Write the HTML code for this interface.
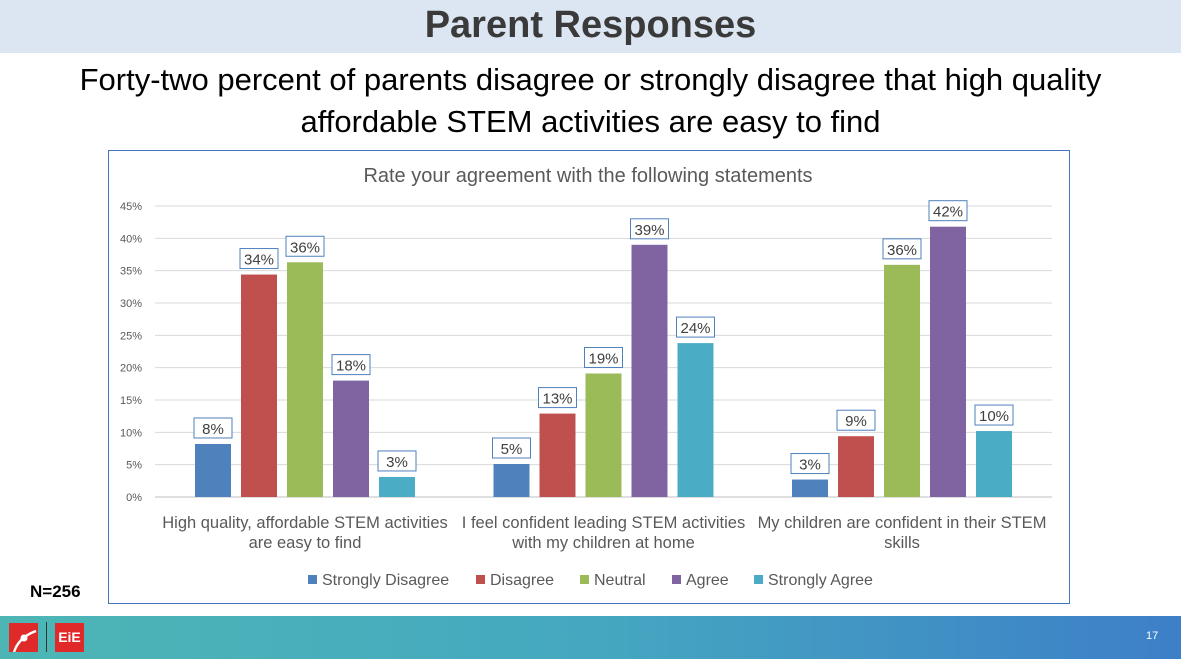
<!DOCTYPE html>
<html><head><meta charset="utf-8"><style>
body{margin:0;width:1181px;height:659px;position:relative;background:#fff;font-family:"Liberation Sans",sans-serif;overflow:hidden}
#banner{position:absolute;left:0;top:0;width:1181px;height:53px;background:#dce6f2;text-align:center;font:bold 38px "Liberation Sans",sans-serif;line-height:50px;color:#3a3a3a}
#sub{position:absolute;left:0;top:59px;width:1181px;text-align:center;font-size:31px;line-height:42px;color:#000;white-space:nowrap}
#footer{position:absolute;left:0;top:616px;width:1181px;height:43px;background:linear-gradient(90deg,#4db6b4,#45a8c0 50%,#3d7fc8)}
</style></head><body>
<div id="banner">Parent Responses</div>
<div id="sub">Forty-two percent of parents disagree or strongly disagree that high quality<br>affordable STEM activities are easy to find</div>
<div style="position:absolute;left:30px;top:582px;font-weight:bold;font-size:17px">N=256</div>
<div id="footer">
<div style="position:absolute;left:9px;top:7px;width:29px;height:29px;background:#e02a2a;overflow:hidden">
<svg width="29" height="29"><path d="M5 29 Q10 14 27 8" stroke="#fff" stroke-width="2.5" fill="none"/><circle cx="15" cy="15" r="3.5" fill="#fff"/></svg></div>
<div style="position:absolute;left:46px;top:6px;width:1px;height:30px;background:#333"></div>
<div style="position:absolute;left:55px;top:7px;width:29px;height:29px;background:#e02a2a;color:#fff;font-weight:bold;font-size:14px;line-height:29px;text-align:center">EiE</div>
<div style="position:absolute;left:1146px;top:14px;color:#fff;font-size:11px">17</div>
</div>
<svg id="chart" width="1181" height="659" style="position:absolute;left:0;top:0"></svg>
<script>
const categories=[["High quality, affordable STEM activities","are easy to find"],["I feel confident leading STEM activities","with my children at home"],["My children are confident in their STEM","skills"]];
const seriesNames=["Strongly Disagree","Disagree","Neutral","Agree","Strongly Agree"];
const seriesColors=["#4f81bd","#c0504d","#9bbb59","#8064a2","#4bacc6"];
const stronglyDisagree=[8.2,5.1,2.7];
const disagree=[34.4,12.9,9.4];
const neutral=[36.3,19.1,35.9];
const agree=[18.0,39.0,41.8];
const stronglyAgree=[3.1,23.8,10.2];
const printed=[["8%","5%","3%"],["34%","13%","9%"],["36%","19%","36%"],["18%","39%","42%"],["3%","24%","10%"]];
const yTicks=[0,5,10,15,20,25,30,35,40,45];
const series=[stronglyDisagree,disagree,neutral,agree,stronglyAgree];
const svg=document.getElementById('chart');const NS="http://www.w3.org/2000/svg";
function mk(t,a,txt){const e=document.createElementNS(NS,t);for(const k in a)e.setAttribute(k,a[k]);if(txt!==undefined)e.textContent=txt;svg.appendChild(e);return e;}
const y=v=>497-v*(291/45);
const gx=i=>305+i*298.5;
let e=mk('rect',{x:108.5,y:150.5,width:961,height:453,fill:'#fff',stroke:'#4472c4'});

e=mk('text',{x:588,y:182,'text-anchor':'middle','font-size':20,fill:'#595959'},'Rate your agreement with the following statements');

yTicks.forEach(t=>{
 e=mk('line',{x1:155,x2:1052,y1:y(t),y2:y(t),stroke:t==0?'#bfbfbf':'#d9d9d9'});
 
 e=mk('text',{x:142,y:y(t)+4,'text-anchor':'end','font-size':11,fill:'#595959'},t+'%');
 
});
series.forEach((s,si)=>s.forEach((v,ci)=>{
 const cx=gx(ci)+(si-2)*46;
 e=mk('rect',{x:cx-18,y:y(v),width:36,height:497-y(v),fill:seriesColors[si]});
 
 e=mk('rect',{x:cx-19,y:y(v)-26,width:38,height:20,fill:'#fff',stroke:'#4f81bd'});
 
 e=mk('text',{x:cx,y:y(v)-10,'text-anchor':'middle','font-size':15,fill:'#404040'},printed[si][ci]);
 
}));
categories.forEach((c,i)=>c.forEach((l,j)=>{
 e=mk('text',{x:gx(i),y:528+j*20,'text-anchor':'middle','font-size':16.5,fill:'#595959'},l);
 
}));
const legX=[308,476,580,672,754];
seriesNames.forEach((n,i)=>{
 e=mk('rect',{x:legX[i],y:575,width:9,height:9,fill:seriesColors[i]});
 
 e=mk('text',{x:legX[i]+14,y:585,'font-size':16,fill:'#595959'},n);
 
});
</script>
</body></html>
